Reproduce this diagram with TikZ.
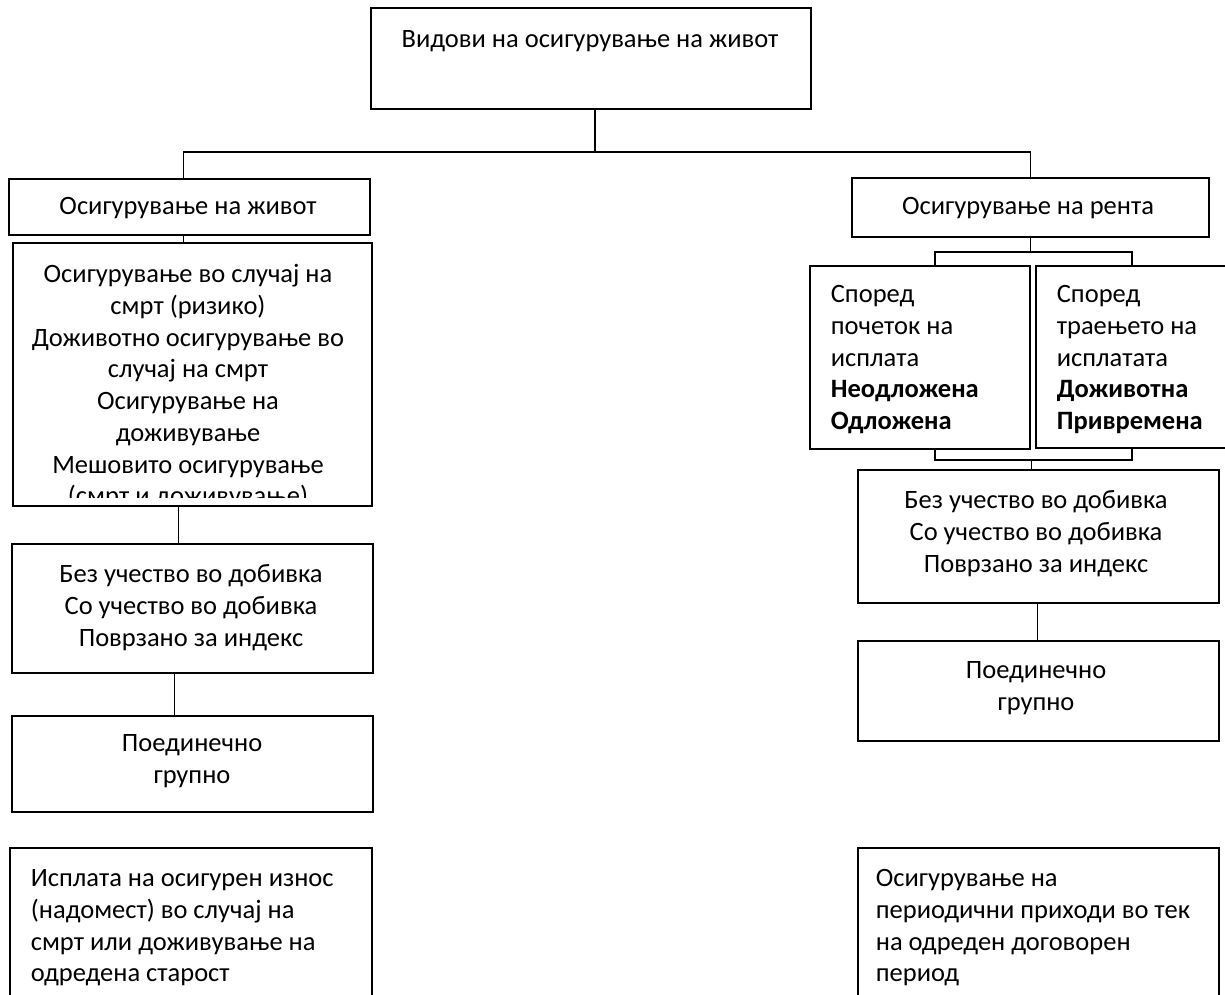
\documentclass[tikz,border=0pt]{standalone}
\usepackage{fontspec}
\setmainfont{Carlito}
\newcommand\fst{\rule{0pt}{24pt}}
\begin{document}
\begin{tikzpicture}[x=1pt,y=-1pt,line width=1.7pt,
  box/.style={draw=black,inner sep=0pt,anchor=north west},
  txt/.style={font=\fontsize{26.5}{31.7}\selectfont,inner sep=0pt,yshift=24pt,text=black},
  conn/.style={draw=black,line width=1.7pt}]
\useasboundingbox (0,0) rectangle (1225,994);
% boxes
\node[box,minimum width=440pt,minimum height=101pt] (top) at (370,7) {};
\node[box,minimum width=361pt,minimum height=56pt] (life) at (8,178) {};
\node[box,minimum width=359pt,minimum height=263pt] (lifetypes) at (12,242) {};
\node[box,minimum width=361pt,minimum height=129pt] (lifeprofit) at (11,543) {};
\node[box,minimum width=361pt,minimum height=96pt] (lifegroup) at (11,715) {};
\node[box,minimum width=362pt,minimum height=200pt] (lifedesc) at (9,847) {};
\node[box,minimum width=357pt,minimum height=59pt] (rent) at (851,177) {};
\node[box,minimum width=220pt,minimum height=183pt] (start) at (809,265) {};
\node[box,minimum width=250pt,minimum height=182pt] (dur) at (1035,265) {};
\node[box,minimum width=361pt,minimum height=133pt] (rentprofit) at (857,469) {};
\node[box,minimum width=361pt,minimum height=100pt] (rentgroup) at (857,640) {};
\node[box,minimum width=361pt,minimum height=200pt] (rentdesc) at (857,847) {};
% connectors
\draw[conn] ([xshift=4pt]top.south) -- ++(0,42) coordinate (hub);
\draw[conn] ([xshift=-6pt]life.north) |- (hub) -| (rent.north);
\draw[conn] ([xshift=-6pt]life.south) -- ([xshift=-6pt]life.south |- lifetypes.north);
\draw[conn] ([xshift=-14pt]lifetypes.south) -- ([xshift=-14pt]lifetypes.south |- lifeprofit.north);
\draw[conn] ([xshift=-18pt]lifeprofit.south) -- ([xshift=-18pt]lifeprofit.south |- lifegroup.north);
\draw[conn] (rent.south) -- ++(0,14) coordinate (rj);
\draw[conn] ([xshift=15pt]start.north) |- (rj) -| ([xshift=-29pt]dur.north);
\draw[conn] ([xshift=-7pt]rentprofit.north) -- ++(0,-9) coordinate (rj2);
\draw[conn] ([xshift=15pt]start.south) |- (rj2) -| ([xshift=-29pt]dur.south);
\draw[conn] ([xshift=-1pt]rentprofit.south) -- ([xshift=-1pt]rentgroup.north);
% texts
\node[txt,anchor=north] (ttop) at (590,47) {\fst Видови на осигурување на живот};
\node[txt,anchor=north] (tlife) at (188,214) {\fst Осигурување на живот};
\begin{scope}
\clip ([xshift=1pt,yshift=-1pt]lifetypes.north west) rectangle ([xshift=-1pt,yshift=9pt]lifetypes.south east);
\node[txt,anchor=north,align=center] (ttypes) at (188,282) {\fst Осигурување во случај на\\смрт (ризико)\\Доживотно осигурување во\\случај на смрт\\Осигурување на\\доживување\\Мешовито осигурување\\(смрт и доживување)};
\end{scope}
\node[txt,anchor=north,align=center] (tlprofit) at (191,582) {\fst Без учество во добивка\\Со учество во добивка\\Поврзано за индекс};
\node[txt,anchor=north,align=center] (tlgroup) at (192,751) {\fst Поединечно\\групно};
\node[txt,anchor=north west,align=left] (tldesc) at (30,886) {\fst Исплата на осигурен износ\\(надомест) во случај на\\смрт или доживување на\\одредена старост};
\node[txt,anchor=north] (trent) at (1028,214) {\fst Осигурување на рента};
\node[txt,anchor=north west,align=left] (tstart) at (830,302) {\fst Според\\почеток на\\исплата\\\textbf{Неодложена}\\\textbf{Одложена}};
\node[txt,anchor=north west,align=left] (tdur) at (1056,302) {\fst Според\\траењето на\\исплатата\\\textbf{Доживотна}\\\textbf{Привремена}};
\node[txt,anchor=north,align=center] (trprofit) at (1036,508) {\fst Без учество во добивка\\Со учество во добивка\\Поврзано за индекс};
\node[txt,anchor=north,align=center] (trgroup) at (1036,678) {\fst Поединечно\\групно};
\node[txt,anchor=north west,align=left] (trdesc) at (875,886) {\fst Осигурување на\\периодични приходи во тек\\на одреден договорен\\период};
\end{tikzpicture}
\end{document}
